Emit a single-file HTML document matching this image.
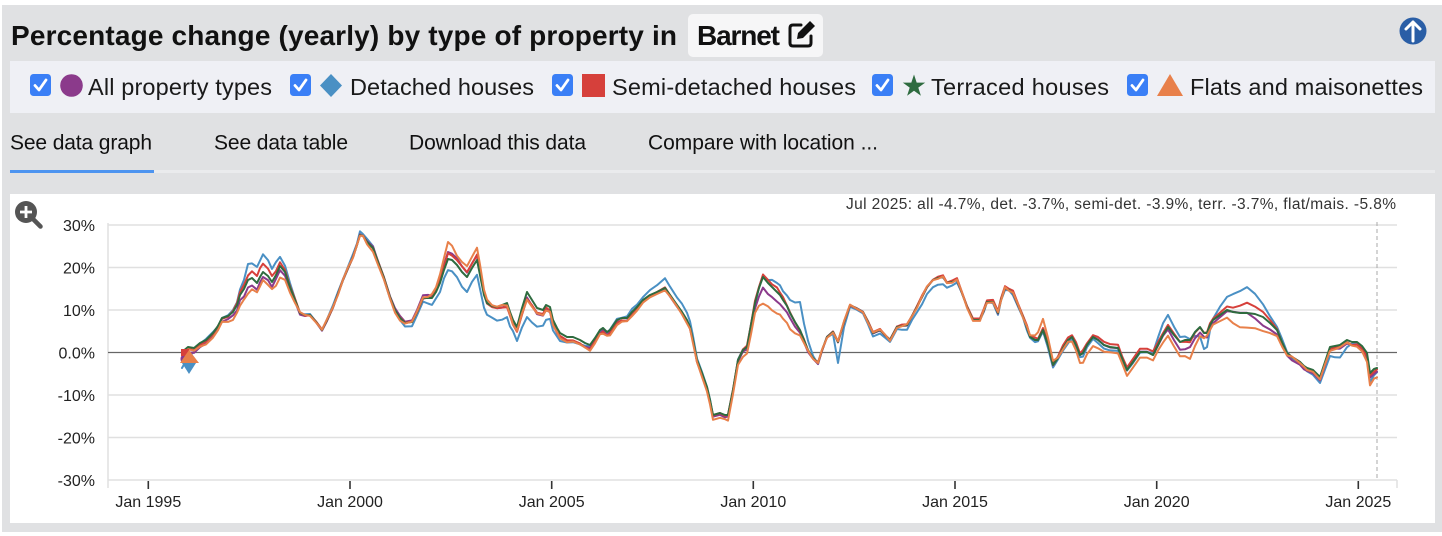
<!DOCTYPE html>
<html><head><meta charset="utf-8">
<style>
html,body{margin:0;padding:0;background:#fff;width:1442px;height:536px;overflow:hidden}
svg{display:block}
text{font-family:"Liberation Sans",Arial,sans-serif}
</style></head>
<body>
<svg id="s" width="1442" height="536" viewBox="0 0 1442 536" xmlns="http://www.w3.org/2000/svg">
<rect x="0" y="0" width="1442" height="536" fill="#fff"/>
<rect x="2" y="5" width="1440" height="527" fill="#e0e1e3"/>
<!-- title -->
<text x="11" y="45" font-size="28" font-weight="bold" fill="#111" textLength="666" lengthAdjust="spacing">Percentage change (yearly) by type of property in</text>
<rect x="688" y="14" width="135" height="43" rx="5" fill="#f6f6f7"/>
<text x="697" y="45" font-size="28" font-weight="bold" fill="#111" textLength="83" lengthAdjust="spacing">Barnet</text>
<!-- edit icon -->
<g fill="none" stroke="#111" stroke-width="3" stroke-linecap="round" stroke-linejoin="round">
<path d="M801,25 H793 Q790,25 790,28 V43 Q790,46 793,46 H808 Q811,46 811,43 V36"/>
</g>
<path d="M797,39 L798,33 L810,21 L815,26 L803,38 Z" fill="#111"/>
<!-- up arrow -->
<circle cx="1413" cy="31" r="13.5" fill="#2a5ea6"/>
<g stroke="#fff" stroke-width="3" fill="none" stroke-linecap="round" stroke-linejoin="round">
<path d="M1413,41 V22 M1406,29 L1413,22 L1420,29"/>
</g>
<!-- legend bar -->
<rect x="10" y="61" width="1425" height="52" fill="#eff0f5"/>
<g id="cbs"></g>
<circle cx="71.5" cy="85.5" r="11.3" fill="#8b3a8b"/>
<path d="M331,74 L342,85.5 L331,97 L320,85.5 Z" fill="#4a90c4"/>
<rect x="582" y="74" width="23" height="23" fill="#d6403b"/>
<path d="M914,74.5 L916.7,82.6 L925.2,82.6 L918.3,87.6 L920.9,95.7 L914,90.7 L907.1,95.7 L909.7,87.6 L902.8,82.6 L911.3,82.6 Z" fill="#2e6b3f"/>
<path d="M1170,74 L1183,96 L1157,96 Z" fill="#e8804a"/>
<g font-size="23.5" fill="#1a1a1a">
<text x="88" y="95" textLength="184" lengthAdjust="spacing">All property types</text>
<text x="350" y="95" textLength="184" lengthAdjust="spacing">Detached houses</text>
<text x="612" y="95" textLength="244" lengthAdjust="spacing">Semi-detached houses</text>
<text x="931" y="95" textLength="178" lengthAdjust="spacing">Terraced houses</text>
<text x="1190" y="95" textLength="233" lengthAdjust="spacing">Flats and maisonettes</text>
</g>
<!-- tabs -->
<g font-size="21" fill="#111">
<text x="10" y="149.5" textLength="142" lengthAdjust="spacing">See data graph</text>
<text x="214" y="149.5" textLength="134" lengthAdjust="spacing">See data table</text>
<text x="409" y="149.5" textLength="177" lengthAdjust="spacing">Download this data</text>
<text x="648" y="149.5" textLength="230" lengthAdjust="spacing">Compare with location ...</text>
</g>
<rect x="10" y="170" width="1425" height="3" fill="#eaebed"/>
<rect x="10" y="170" width="144" height="3" fill="#4d94f0"/>
<!-- chart area -->
<rect x="10" y="194" width="1425" height="329" fill="#fff"/>
<!-- magnifier -->
<line x1="33" y1="219" x2="40.5" y2="226.5" stroke="#555" stroke-width="4.5" stroke-linecap="round"/>
<circle cx="26" cy="212" r="11" fill="#555"/>
<path d="M26,206 V218 M20,212 H32" stroke="#fff" stroke-width="2.8"/>
<text x="1396" y="209" font-size="15.5" fill="#333" text-anchor="end" textLength="550" lengthAdjust="spacing">Jul 2025: all -4.7%, det. -3.7%, semi-det. -3.9%, terr. -3.7%, flat/mais. -5.8%</text>
<!-- grid -->
<g stroke="#e0e0e0" stroke-width="1.5">
<line x1="108" y1="225" x2="1397" y2="225"/>
<line x1="108" y1="267.5" x2="1397" y2="267.5"/>
<line x1="108" y1="310" x2="1397" y2="310"/>
<line x1="108" y1="395" x2="1397" y2="395"/>
<line x1="108" y1="437.5" x2="1397" y2="437.5"/>
<line x1="108" y1="480" x2="1397" y2="480"/>
<line x1="108" y1="223" x2="108" y2="488"/>
<line x1="1397" y1="480" x2="1397" y2="488"/>
</g>
<line x1="108" y1="352.5" x2="1397" y2="352.5" stroke="#666" stroke-width="1.2"/>
<g font-size="16" fill="#222" text-anchor="end">
<text x="95" y="231">30%</text>
<text x="95" y="273.5">20%</text>
<text x="95" y="316">10%</text>
<text x="95" y="358.5">0.0%</text>
<text x="95" y="401">-10%</text>
<text x="95" y="443.5">-20%</text>
<text x="95" y="486">-30%</text>
</g>
<g stroke="#333" stroke-width="1.6">
<line x1="148.3" y1="481" x2="148.3" y2="489"/>
<line x1="350" y1="481" x2="350" y2="489"/>
<line x1="551.7" y1="481" x2="551.7" y2="489"/>
<line x1="753.3" y1="481" x2="753.3" y2="489"/>
<line x1="955" y1="481" x2="955" y2="489"/>
<line x1="1156.7" y1="481" x2="1156.7" y2="489"/>
<line x1="1358.3" y1="481" x2="1358.3" y2="489"/>
</g>
<g font-size="16" fill="#222" text-anchor="middle">
<text x="148.3" y="507">Jan 1995</text>
<text x="350" y="507">Jan 2000</text>
<text x="551.7" y="507">Jan 2005</text>
<text x="753.3" y="507">Jan 2010</text>
<text x="955" y="507">Jan 2015</text>
<text x="1156.7" y="507">Jan 2020</text>
<text x="1358.3" y="507">Jan 2025</text>
</g>
<line x1="1377" y1="222" x2="1377" y2="480" stroke="#aaa" stroke-width="1" stroke-dasharray="4,3"/>
<g id="lines" fill="none" stroke-width="2" stroke-linejoin="round" stroke-linecap="round"></g>
<!-- start markers -->
<circle cx="186" cy="359" r="5.5" fill="#8b3a8b"/>
<path d="M189,352 L196,363 L189,374 L182,363 Z" fill="#4a90c4"/>
<rect x="181" y="349" width="8" height="7" fill="#d6403b"/>
<path d="M189,350 L199,363 L180,363 Z" fill="#e8804a"/>
</svg>
<script>
(function(){
var NS="http://www.w3.org/2000/svg";
var cbx=[30,290,552,872,1127], g=document.getElementById("cbs");
cbx.forEach(function(x){
  var r=document.createElementNS(NS,"rect");
  r.setAttribute("x",x);r.setAttribute("y",74);r.setAttribute("width",21);r.setAttribute("height",22);
  r.setAttribute("rx",3.5);r.setAttribute("fill","#3a7ff6");g.appendChild(r);
  var p=document.createElementNS(NS,"path");
  p.setAttribute("d","M"+(x+5)+",85.5 L"+(x+9)+",90 L"+(x+16)+",80");
  p.setAttribute("stroke","#fff");p.setAttribute("stroke-width","2.8");p.setAttribute("fill","none");
  p.setAttribute("stroke-linecap","round");p.setAttribute("stroke-linejoin","round");g.appendChild(p);
});
var base="182,352 188,347 194,348 200,343 206,340 213,333 218,326 222,318 228,316 233,312 237,305 240,295 244,289 248,280 252,278 257,283 260,277 263,272 268,276 272,282 276,275 280,266 285,272 290,287 295,300 300,313 305,315 310,315 316,322 322,330 327,320 333,307 338,294 343,280 348,268 353,257 357,245 360,235 363,236 367,242 373,248 378,262 384,278 390,297 395,310 400,318 405,323 412,322 417,312 423,298 428,298 432,298 436,292 440,283 444,270 448,259 452,260 457,265 462,272 467,277 472,268 477,260 480,275 484,295 487,303 492,306 497,307 502,305 507,303 510,312 513,320 517,327 522,308 527,292 532,300 537,308 543,310 546,305 550,307 553,320 557,328 560,333 567,337 573,337 580,340 585,343 590,345 595,338 600,330 603,328 607,332 610,330 617,320 622,318 627,318 632,312 637,307 643,300 650,295 657,292 665,288 670,295 677,305 682,312 687,320 690,327 693,340 697,360 702,373 707,387 710,400 713,415 720,413 725,415 728,415 733,390 738,360 743,350 747,347 751,325 755,303 759,288 763,277 768,283 772,287 777,292 780,295 783,300 787,306 790,313 795,322 800,330 804,340 808,350 813,358 818,363 822,350 827,337 833,332 838,342 844,322 850,305 856,308 863,312 868,322 873,333 880,330 885,335 890,340 897,327 902,326 907,325 912,316 917,307 922,297 927,287 933,280 938,278 943,277 947,283 952,282 957,280 962,293 967,307 973,320 980,320 984,310 987,302 993,302 998,313 1001,300 1005,288 1009,290 1013,293 1018,305 1023,317 1027,328 1030,337 1035,340 1038,340 1043,330 1048,345 1053,365 1058,358 1063,348 1068,340 1072,337 1076,345 1080,355 1083,353 1087,345 1093,337 1098,340 1104,345 1110,347 1118,348 1122,358 1127,370 1133,362 1140,352 1147,352 1153,355 1158,345 1163,335 1168,327 1174,335 1180,342 1185,340 1190,340 1195,332 1200,327 1204,333 1207,333 1210,325 1213,320 1220,315 1227,310 1233,312 1240,313 1247,313 1255,314 1263,317 1270,323 1277,330 1282,342 1287,353 1292,357 1300,362 1304,366 1307,368 1313,370 1320,377 1325,362 1330,347 1335,346 1340,345 1347,340 1352,342 1357,342 1362,346 1367,353 1370,373 1374,369 1377,368";
var pts=base.split(/\s+/).map(function(s){return s.split(",").map(Number);});
function off(k,x){
  if(x<=k[0][0])return k[0][1];
  for(var i=0;i<k.length-1;i++){
    if(x<=k[i+1][0]){var t=(x-k[i][0])/(k[i+1][0]-k[i][0]);return k[i][1]+t*(k[i+1][1]-k[i][1]);}
  }
  return k[k.length-1][1];
}
var series=[
 {c:"#4a90c4",s:1.3,j:1.0,k:[[182,15],[195,3],[205,0],[230,0],[240,-5],[248,-15],[263,-17],[272,-14],[280,-10],[290,-3],[300,0],[355,-2],[362,-3],[380,0],[400,2],[420,4],[440,8],[450,11],[460,14],[477,15],[487,12],[497,13],[507,15],[513,12],[517,13],[527,26],[537,18],[545,15],[553,10],[567,5],[590,2],[610,0],[640,-3],[665,-10],[680,-8],[690,-6],[700,0],[760,0],[770,-5],[777,-9],[787,-10],[795,-20],[800,-27],[806,-12],[814,0],[833,2],[838,20],[845,2],[900,3],[933,8],[950,5],[960,0],[1040,2],[1100,3],[1150,0],[1160,-10],[1168,-12],[1182,-5],[1198,5],[1205,19],[1212,0],[1220,-8],[1233,-17],[1247,-25],[1255,-20],[1273,-5],[1290,0],[1320,5],[1330,10],[1342,12],[1350,3],[1360,0],[1370,9],[1377,4]]},
 {c:"#8b3a8b",s:2.1,j:0.6,k:[[182,5],[230,3],[248,8],[263,5],[280,4],[300,1],[350,0],[440,-3],[448,-7],[477,-4],[487,0],[510,3],[527,6],[570,4],[600,3],[665,1],[750,2],[763,11],[777,10],[790,5],[805,2],[830,0],[1160,0],[1185,9],[1200,5],[1233,0],[1247,0],[1263,8],[1280,3],[1360,3],[1370,5],[1377,4]]},
 {c:"#d6403b",s:3.7,j:0.7,k:[[182,2],[230,0],[248,-5],[263,-9],[280,-3],[300,0],[430,0],[440,-3],[448,-5],[477,-5],[487,0],[510,4],[527,7],[545,3],[570,4],[600,4],[640,2],[665,0],[700,2],[763,-2],[777,-4],[790,0],[820,0],[1160,-3],[1190,2],[1220,-3],[1233,-5],[1247,-11],[1260,-6],[1280,0],[1370,3],[1377,2]]},
 {c:"#2e6b3f",s:0,j:0,k:[[0,0]]},
 {c:"#e8804a",s:5.2,j:0.9,k:[[182,3],[220,4],[233,7],[248,13],[263,8],[272,8],[280,12],[290,5],[300,0],[360,0],[373,3],[400,2],[430,-2],[440,-8],[448,-17],[457,-10],[467,-10],[477,-13],[487,-3],[510,3],[527,7],[553,5],[600,5],[665,2],[700,3],[713,5],[740,5],[755,10],[763,26],[777,21],[793,15],[800,5],[810,0],[1025,0],[1035,-5],[1043,-12],[1050,-5],[1060,0],[1075,5],[1083,10],[1110,6],[1127,5],[1150,5],[1168,8],[1180,15],[1190,18],[1200,10],[1205,3],[1213,5],[1227,8],[1240,14],[1263,15],[1277,7],[1290,0],[1320,3],[1340,3],[1360,4],[1370,12],[1377,9]]}
];
var lg=document.getElementById("lines");
series.forEach(function(se){
  var d="";
  pts.forEach(function(p,i){
    var y=p[1]+off(se.k,p[0])+se.j*Math.sin(p[0]*0.9+se.s);
    d+=(i?"L":"M")+p[0]+","+y.toFixed(1);
  });
  var pa=document.createElementNS(NS,"path");
  pa.setAttribute("d",d);pa.setAttribute("stroke",se.c);
  lg.appendChild(pa);
});
})();
</script>
</body></html>
